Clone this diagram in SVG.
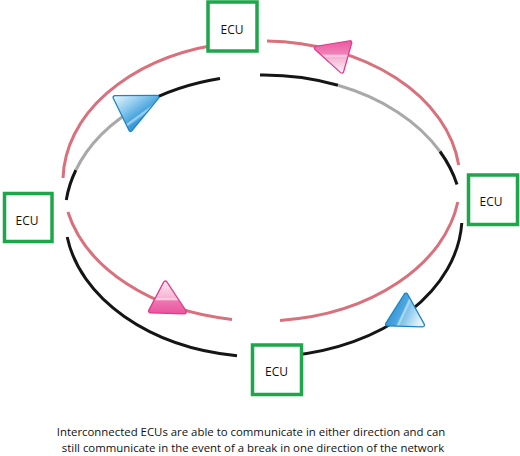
<svg xmlns="http://www.w3.org/2000/svg" width="520" height="456" viewBox="0 0 520 456">
<style>
.pink{fill:none;stroke:#d9707b;stroke-width:3}
.blk{fill:none;stroke:#151515;stroke-width:3}
.gry{fill:none;stroke:#a9a9a9;stroke-width:3}
.box{fill:#fff;stroke:#1ea64b;stroke-width:3.5}
.lbl{font-family:"Open Sans","Noto Sans","Liberation Sans",sans-serif;font-size:12px;fill:#111;text-anchor:middle}
.cap{font-family:"Open Sans","Noto Sans","Liberation Sans",sans-serif;font-size:11.4px;fill:#111;text-anchor:middle}
.bb{fill:#1b84c4;stroke:#1b84c4;stroke-width:5;stroke-linejoin:round}
.pb{fill:#e2388c;stroke:#e2388c;stroke-width:5;stroke-linejoin:round}
.in{stroke-width:2.5;stroke-linejoin:round}
</style>
<defs>
<linearGradient id="gBlueTL" x1="0" y1="0" x2="0.85" y2="0.9">
<stop offset="0" stop-color="#e2f2fb"/>
<stop offset="0.35" stop-color="#8ecbed"/>
<stop offset="0.62" stop-color="#4aa5df"/>
<stop offset="0.66" stop-color="#a9d8f3"/>
<stop offset="0.72" stop-color="#3d9cdb"/>
<stop offset="1" stop-color="#2a8ad0"/>
</linearGradient>
<linearGradient id="gBlueBR" x1="0" y1="0.3" x2="1" y2="0.7">
<stop offset="0" stop-color="#2a8ad0"/>
<stop offset="0.45" stop-color="#4ea8e0"/>
<stop offset="0.5" stop-color="#b5dcf3"/>
<stop offset="0.56" stop-color="#7fc2ea"/>
<stop offset="1" stop-color="#e4f2fb"/>
</linearGradient>
<linearGradient id="gPinkTR" x1="0" y1="0" x2="0" y2="1">
<stop offset="0" stop-color="#ec5ea3"/>
<stop offset="0.4" stop-color="#f083b9"/>
<stop offset="0.46" stop-color="#fbd3e6"/>
<stop offset="0.52" stop-color="#f6b1d2"/>
<stop offset="1" stop-color="#fdebf4"/>
</linearGradient>
<linearGradient id="gPinkBL" x1="0" y1="0" x2="0" y2="1">
<stop offset="0" stop-color="#fce3ef"/>
<stop offset="0.5" stop-color="#f6b5d4"/>
<stop offset="0.56" stop-color="#fbd7e8"/>
<stop offset="0.62" stop-color="#ef76b0"/>
<stop offset="1" stop-color="#ea59a0"/>
</linearGradient>
</defs>

<g id="connectors">
<!-- pink ring -->
<path class="pink" d="M267,41.05 A198.5,140 0 0,1 458.7,165"/>
<path class="pink" d="M457.8,202 A198.5,140 0 0,1 280,320.4"/>
<path class="pink" d="M232,319.4 A198.5,140 0 0,1 67.9,212"/>
<path class="pink" d="M63.05,178 A198.5,140 0 0,1 215,44.9"/>
<!-- black/grey ring -->
<path class="blk" d="M260,75.05 A198.5,141 0 0,1 338,85.3"/>
<path class="gry" d="M338,85.3 A198.5,141 0 0,1 440,151.5"/>
<path class="blk" d="M440,151.5 A198.5,141 0 0,1 457,184.5"/>
<path class="blk" d="M461.8,223 A198.5,141 0 0,1 290,355.7"/>
<path class="blk" d="M237,355.7 A198.5,141 0 0,1 67.2,237"/>
<path class="blk" d="M66.3,200 A198.5,141 0 0,1 75.9,170"/>
<path class="gry" d="M75.9,170 A198.5,141 0 0,1 140,105.6"/>
<path class="blk" d="M140,105.6 A198.5,141 0 0,1 220,78.4"/>
<!-- direction arrows -->
<g id="arrow-blue-tl">
<polygon class="bb" points="115,97.5 157,97.2 130.6,129.5"/>
<polygon class="in" fill="url(#gBlueTL)" stroke="url(#gBlueTL)" points="115,97.5 157,97.2 130.6,129.5"/>
</g>
<g id="arrow-pink-tr">
<polygon class="pb" points="316.3,48.1 349.9,42.6 341.8,71.2"/>
<polygon class="in" fill="url(#gPinkTR)" stroke="url(#gPinkTR)" points="316.3,48.1 349.9,42.6 341.8,71.2"/>
</g>
<g id="arrow-pink-bl">
<polygon class="pb" points="165.3,283 150.5,311 184.5,312"/>
<polygon class="in" fill="url(#gPinkBL)" stroke="url(#gPinkBL)" points="165.3,283 150.5,311 184.5,312"/>
</g>
<g id="arrow-blue-br">
<polygon class="bb" points="405.9,295 387.5,324.1 422.6,325"/>
<polygon class="in" fill="url(#gBlueBR)" stroke="url(#gBlueBR)" points="405.9,295 387.5,324.1 422.6,325"/>
</g>
</g>

<g id="ecu-top">
<rect class="box" x="208" y="2" width="49" height="49"/>
<text class="lbl" x="232" y="34">ECU</text>
</g>
<g id="ecu-left">
<rect class="box" x="4.5" y="193.5" width="47.5" height="48"/>
<text class="lbl" x="27" y="225">ECU</text>
</g>
<g id="ecu-right">
<rect class="box" x="468.5" y="175" width="49" height="49.5"/>
<text class="lbl" x="491" y="206">ECU</text>
</g>
<g id="ecu-bottom">
<rect class="box" x="252.5" y="345" width="49" height="49.5"/>
<text class="lbl" x="276.5" y="376">ECU</text>
</g>

<g id="caption">
<text class="cap" x="251" y="436">Interconnected ECUs are able to communicate in either direction and can</text>
<text class="cap" x="253" y="452">still communicate in the event of a break in one direction of the network</text>
</g>
</svg>
